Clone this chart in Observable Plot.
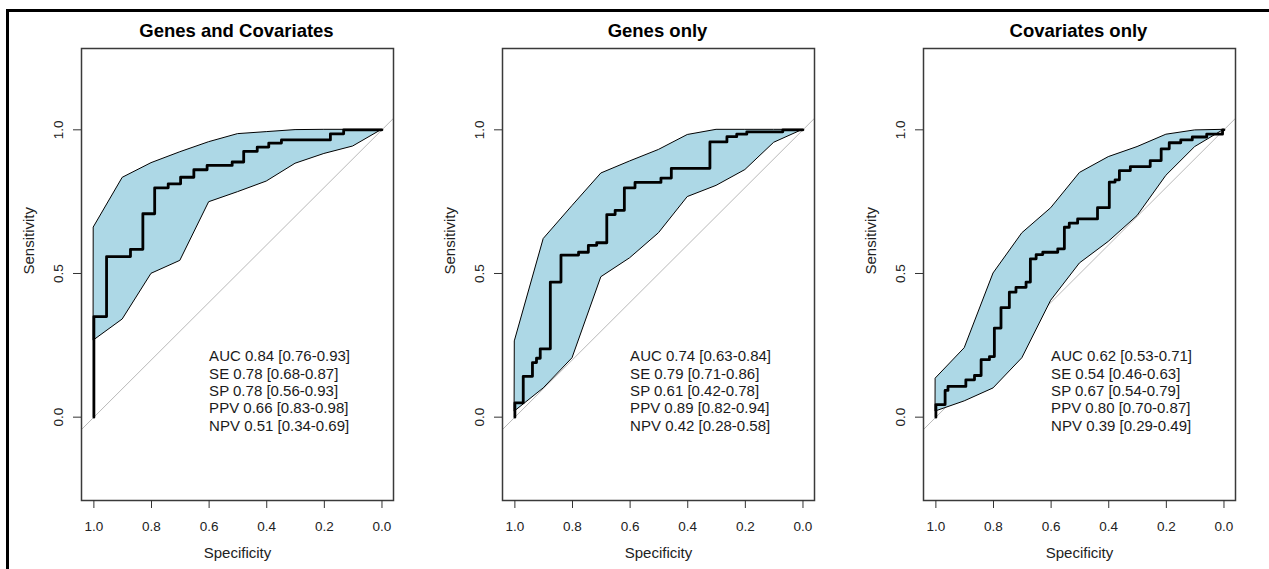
<!DOCTYPE html>
<html><head><meta charset="utf-8">
<script src="https://cdn.jsdelivr.net/npm/d3@7"></script>
<script src="https://cdn.jsdelivr.net/npm/@observablehq/plot@0.6"></script>
<style>
body{margin:0;background:#fff;}
#wrap{position:relative;width:1269px;height:569px;overflow:hidden;background:#fff;font-family:"Liberation Sans",Arial,sans-serif;}
#border{position:absolute;left:6px;top:9px;width:1300px;height:600px;border-top:3px solid #000;border-left:3px solid #000;}
.panel{position:absolute;top:0;}
</style></head><body><div id="wrap"><div id="border"></div></div>
<script>
const titles = ["Genes and Covariates", "Genes only", "Covariates only"];
const xTicks = [1, 0.8, 0.6, 0.4, 0.2, 0];
const yTicks = [0, 0.5, 1];
const bandSpec = [1, 0.9, 0.8, 0.7, 0.6, 0.5, 0.4, 0.3, 0.2, 0.1, 0];

// Panel 1: Genes and Covariates
const roc1Spec = [1, 0.956, 0.873, 0.830, 0.789, 0.742, 0.699, 0.653, 0.607, 0.520, 0.480, 0.433, 0.393, 0.349, 0.179, 0.133, 0];
const roc1Sens = [0, 0.350, 0.559, 0.584, 0.708, 0.798, 0.812, 0.835, 0.861, 0.876, 0.888, 0.925, 0.940, 0.954, 0.965, 0.986, 1.0];
const hi1 = [0.661, 0.833, 0.884, 0.922, 0.957, 0.985, 0.992, 0.999, 1, 1, 1];
const lo1 = [0.267, 0.340, 0.499, 0.544, 0.748, 0.783, 0.820, 0.882, 0.916, 0.942, 1];
const stats1 = ["AUC 0.84 [0.76-0.93]", "SE 0.78 [0.68-0.87]", "SP 0.78 [0.56-0.93]", "PPV 0.66 [0.83-0.98]", "NPV 0.51 [0.34-0.69]"];

// Panel 2: Genes only
const roc2Spec = [1, 0.971, 0.939, 0.925, 0.912, 0.877, 0.840, 0.779, 0.745, 0.716, 0.681, 0.652, 0.620, 0.583, 0.493, 0.457, 0.323, 0.264, 0.230, 0.195, 0.07, 0];
const roc2Sens = [0, 0.050, 0.142, 0.190, 0.205, 0.238, 0.470, 0.564, 0.574, 0.598, 0.607, 0.705, 0.720, 0.798, 0.817, 0.832, 0.866, 0.958, 0.976, 0.985, 0.993, 1.0];
const hi2 = [0.265, 0.62, 0.735, 0.848, 0.89, 0.93, 0.982, 1, 1, 1, 1];
const lo2 = [0.02, 0.10, 0.205, 0.487, 0.553, 0.64, 0.766, 0.805, 0.86, 0.955, 1];
const stats2 = ["AUC 0.74 [0.63-0.84]", "SE 0.79 [0.71-0.86]", "SP 0.61 [0.42-0.78]", "PPV 0.89 [0.82-0.94]", "NPV 0.42 [0.28-0.58]"];

// Panel 3: Covariates only
const roc3Spec = [1, 0.968, 0.958, 0.896, 0.866, 0.843, 0.814, 0.797, 0.774, 0.745, 0.722, 0.687, 0.672, 0.652, 0.629, 0.577, 0.554, 0.537, 0.508, 0.439, 0.398, 0.378, 0.363, 0.325, 0.256, 0.218, 0.190, 0.150, 0.110, 0.060, 0.005, 0];
const roc3Sens = [0, 0.044, 0.093, 0.107, 0.130, 0.145, 0.200, 0.211, 0.310, 0.381, 0.435, 0.452, 0.470, 0.551, 0.566, 0.574, 0.586, 0.661, 0.675, 0.690, 0.729, 0.818, 0.826, 0.858, 0.872, 0.893, 0.934, 0.955, 0.965, 0.975, 0.985, 1.0];
const hi3 = [0.135, 0.24, 0.50, 0.64, 0.727, 0.85, 0.905, 0.94, 0.983, 0.998, 1];
const lo3 = [0.02, 0.055, 0.10, 0.205, 0.405, 0.535, 0.61, 0.70, 0.84, 0.94, 1];
const stats3 = ["AUC 0.62 [0.53-0.71]", "SE 0.54 [0.46-0.63]", "SP 0.67 [0.54-0.79]", "PPV 0.80 [0.70-0.87]", "NPV 0.39 [0.29-0.49]"];

const panels = [
  {rocSpec: roc1Spec, rocSens: roc1Sens, hi: hi1, lo: lo1, stats: stats1},
  {rocSpec: roc2Spec, rocSens: roc2Sens, hi: hi2, lo: lo2, stats: stats2},
  {rocSpec: roc3Spec, rocSens: roc3Sens, hi: hi3, lo: lo3, stats: stats3}
];
const offsets = [0, 421, 842];
const xDomain = [1.043, -0.04];
const yDomain = [-0.29, 1.283];
const annX = 0.6, annY = 0.093;
const font = "Liberation Sans, Arial, sans-serif";

const wrap = document.getElementById("wrap");
panels.forEach((p, i) => {
  const roc = p.rocSpec.map((s, j) => ({spec: s, sens: p.rocSens[j]}));
  const band = bandSpec.map((s, j) => ({spec: s, lo: p.lo[j], hi: p.hi[j]}));
  const diag = xDomain.map(s => ({spec: s, sens: 1 - s}));
  const svg = Plot.plot({
    width: 421, height: 569,
    marginLeft: 81, marginRight: 28, marginTop: 48, marginBottom: 69,
    style: {fontFamily: font, background: "transparent", overflow: "visible"},
    x: {domain: xDomain},
    y: {domain: yDomain},
    marks: [
      Plot.line(diag, {x: "spec", y: "sens", stroke: "#b8b8b8", strokeWidth: 1, clip: true}),
      Plot.areaY(band, {x: "spec", y1: "lo", y2: "hi", fill: "#ADD8E6", stroke: "#000", strokeWidth: 1}),
      Plot.line(roc, {x: "spec", y: "sens", curve: "step-before", stroke: "#000", strokeWidth: 2.8}),
      Plot.text([p.stats.join("\n")], {x: () => annX, y: () => annY, textAnchor: "start", lineAnchor: "middle", lineHeight: 1.16, fontSize: 15, fill: "#1a1a1a"}),
      Plot.frame({stroke: "#3a3a3a", strokeWidth: 1.5}),
      Plot.axisX({ticks: xTicks, tickFormat: d3.format(".1f"), tickSize: 8, tickPadding: 13, fontSize: 13.5, label: null, stroke: "#333", fill: "#222"}),
      Plot.axisY({ticks: yTicks, tickFormat: d3.format(".1f"), tickSize: 8, tickPadding: 11, tickRotate: -90, fontSize: 13.5, label: null, stroke: "#333", fill: "#222"}),
      Plot.text([titles[i]], {frameAnchor: "top", dy: -17, dx: -1, lineAnchor: "middle", fontWeight: "bold", fontSize: 18.5, fill: "#000"}),
      Plot.text(["Specificity"], {frameAnchor: "bottom", dy: 53, lineAnchor: "middle", fontSize: 15, fill: "#222"}),
      Plot.text(["Sensitivity"], {frameAnchor: "left", dx: -52, rotate: -90, lineAnchor: "middle", fontSize: 15, fill: "#222"})
    ]
  });
  svg.classList.add("panel");
  svg.style.left = offsets[i] + "px";
  wrap.appendChild(svg);
});
</script>
</body></html>
